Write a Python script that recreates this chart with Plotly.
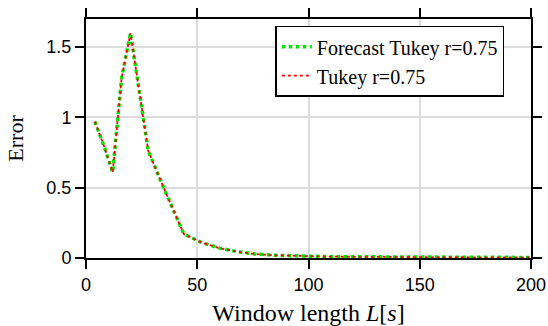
import plotly.graph_objects as go

window_len = [4, 8, 12, 16, 20, 24, 28, 36, 44, 52, 60, 68, 76, 84, 92, 100, 108, 116, 124,
              132, 140, 148, 156, 164, 172, 180, 188, 196, 200]
err_forecast = [0.97, 0.80, 0.61, 1.28, 1.60, 1.18, 0.76, 0.46, 0.17, 0.11, 0.07, 0.045, 0.028,
                0.02, 0.015, 0.012, 0.010, 0.009, 0.008, 0.007, 0.007, 0.006, 0.006, 0.005,
                0.005, 0.005, 0.004, 0.004, 0.004]
err_tukey = [0.97, 0.80, 0.61, 1.28, 1.60, 1.18, 0.76, 0.46, 0.17, 0.11, 0.07, 0.045, 0.028,
             0.02, 0.015, 0.012, 0.010, 0.009, 0.008, 0.007, 0.007, 0.006, 0.006, 0.005,
             0.005, 0.005, 0.004, 0.004, 0.004]
series_names = ["Forecast Tukey r=0.75", "Tukey r=0.75"]
x_ticks = [0, 50, 100, 150, 200]
y_ticks = [0, 0.5, 1, 1.5]
y_tick_text = ["0", "0.5", "1", "1.5"]

serif = "Liberation Serif"
sans = "Liberation Sans"

fig = go.Figure()
fig.add_trace(go.Scatter(x=window_len, y=err_forecast, mode="lines", name=series_names[0],
                         line=dict(color="#00e600", width=3.5, dash="dot")))
fig.add_trace(go.Scatter(x=window_len, y=err_tukey, mode="lines", name=series_names[1],
                         line=dict(color="#ff0000", width=1.8, dash="dot")))

axis_common = dict(showline=True, linecolor="black", linewidth=2, mirror="ticks",
                   ticks="outside", ticklen=9, tickwidth=2, tickcolor="black",
                   showgrid=True, gridcolor="#dcdcdc", gridwidth=1.5, zeroline=False,
                   automargin=False,
                   tickfont=dict(family=sans, size=18, color="black"))

fig.update_xaxes(range=[0, 200], tickvals=x_ticks,
                 title=dict(text="Window length <i>L</i>[<i>s</i>]",
                            font=dict(family=serif, size=24, color="black"), standoff=13),
                 **axis_common)
fig.update_yaxes(range=[0, 1.7], tickvals=y_ticks, ticktext=y_tick_text,
                 title=dict(text="Error", font=dict(family=serif, size=22, color="black"),
                            standoff=17),
                 **axis_common)

fig.update_layout(width=548, height=326, margin=dict(l=86, r=17, t=19, b=68),
                  plot_bgcolor="white", paper_bgcolor="white",
                  legend=dict(x=0.94, y=0.972, xanchor="right", yanchor="top",
                              bgcolor="white", bordercolor="black", borderwidth=1.5,
                              font=dict(family=serif, size=20, color="black"),
                              itemwidth=30, tracegroupgap=0))

fig.write_html("out.html")
